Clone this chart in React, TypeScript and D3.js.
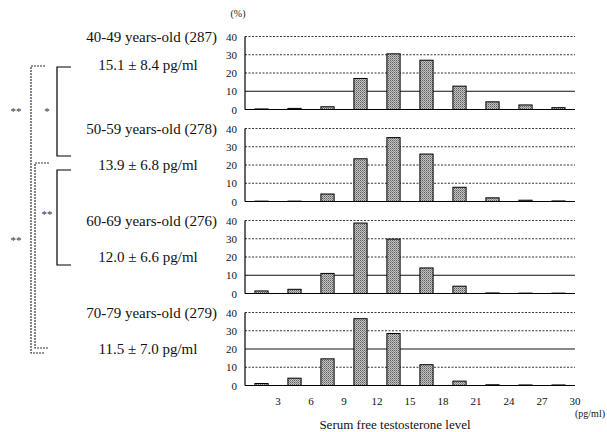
import * as d3 from "d3";

// bin centres (pg/ml) and percentages per age group
const binCentres = [1.5, 4.5, 7.5, 10.5, 13.5, 16.5, 19.5, 22.5, 25.5, 28.5];
const groupLabels = [
  "40-49 years-old (287)",
  "50-59 years-old (278)",
  "60-69 years-old (276)",
  "70-79 years-old (279)",
];
const statLabels = [
  "15.1 ± 8.4 pg/ml",
  "13.9 ± 6.8 pg/ml",
  "12.0 ± 6.6 pg/ml",
  "11.5 ± 7.0 pg/ml",
];
const pct40s = [0.3, 0.6, 1.5, 17, 30.5, 27, 12.8, 4.2, 2.5, 1.0];
const pct50s = [0.2, 0.2, 4.1, 23.4, 35, 26, 7.8, 2, 0.7, 0.3];
const pct60s = [1.4, 2.3, 11, 38.6, 29.8, 14, 4, 0.3, 0.2, 0.2];
const pct70s = [1.1, 4, 14.6, 36.6, 28.5, 11.4, 2.4, 0.4, 0.3, 0.3];
const series = [pct40s, pct50s, pct60s, pct70s];
const yTicks = [0, 10, 20, 30, 40];
const xTicks = [3, 6, 9, 12, 15, 18, 21, 24, 27, 30];
// significance brackets: [from group, to group, mark]
const brackets: [number, number, string][] = [
  [0, 3, "**"],
  [0, 1, "*"],
  [1, 3, "**"],
  [1, 2, "**"],
];

const W = 607;
const H = 432;
const FONT = "'Liberation Serif', 'Times New Roman', serif";

export default function App() {
  const x = d3.scaleLinear().domain([0, 30]).range([245, 575]);
  const panelH = 73;
  const panelGap = 92;
  const yScales = series.map((_, i) => {
    const top = 36.5 + i * panelGap;
    return d3.scaleLinear().domain([0, 40]).range([top + panelH, top]);
  });
  const solidGrid = [10, -1, 10, 20];
  const barHalf = 0.6;

  const statY = (i: number) => yScales[i](20) + (i === 0 ? -8 : 0);

  // bracket geometry (outer = dotted, inner = solid)
  const bracketGeom = [
    { x: 31, tick: 14, y1: statY(0) + 1, y2: statY(3) + 4, ly: 111, lx: 16, dotted: true },
    { x: 57, tick: 14, y1: statY(0) + 2, y2: statY(1) - 9, ly: 111, lx: 47, dotted: false },
    { x: 35, tick: 14, y1: statY(1) - 2, y2: statY(3) - 1, ly: 240, lx: 16, dotted: true },
    { x: 57, tick: 14, y1: statY(1) + 5, y2: statY(2) + 8, ly: 214, lx: 47, dotted: false },
  ];

  return (
    <svg
      width={W}
      height={H}
      style={{ position: "absolute", left: 0, top: 0, background: "#fff" }}
      fontFamily={FONT}
    >
      <defs>
        <pattern id="stipple" width={2} height={2} patternUnits="userSpaceOnUse">
          <rect width={2} height={2} fill="#c4c4c4" />
          <rect width={1} height={1} fill="#5e5e5e" />
          <rect x={1} y={1} width={1} height={1} fill="#8a8a8a" />
        </pattern>
      </defs>
      <rect width={W} height={H} fill="#fff" />

      <text x={238} y={17} fontSize={10} textAnchor="middle" fill="#222">
        (%)
      </text>

      {series.map((vals, i) => {
        const y = yScales[i];
        return (
          <g key={i}>
            {yTicks
              .filter((t) => t > 0)
              .map((t) => (
                <line
                  key={t}
                  x1={x(0)}
                  x2={x(30)}
                  y1={y(t)}
                  y2={y(t)}
                  stroke={t === solidGrid[i] ? "#111" : "#333"}
                  strokeWidth={1}
                  strokeDasharray={t === solidGrid[i] ? undefined : "2,1.5"}
                />
              ))}
            <line x1={x(0)} x2={x(0)} y1={y(0)} y2={y(40)} stroke="#000" strokeWidth={1.2} />
            <line x1={x(0)} x2={x(30)} y1={y(0)} y2={y(0)} stroke="#000" strokeWidth={1.2} />
            {yTicks.map((t) => (
              <text
                key={t}
                x={237}
                y={y(t) + 4}
                fontSize={11}
                textAnchor="end"
                fill="#111"
              >
                {t}
              </text>
            ))}
            {vals.map((v, j) => (
              <rect
                key={j}
                x={x(binCentres[j] - barHalf)}
                y={y(v)}
                width={x(binCentres[j] + barHalf) - x(binCentres[j] - barHalf)}
                height={y(0) - y(v)}
                fill="url(#stipple)"
                stroke="#000"
                strokeWidth={1}
              />
            ))}
            <text x={217} y={y(40) + 5} fontSize={15} textAnchor="end" fill="#111">
              {groupLabels[i]}
            </text>
            <text x={148} y={statY(i) + 5} fontSize={15} textAnchor="middle" fill="#111">
              {statLabels[i]}
            </text>
          </g>
        );
      })}

      {xTicks.map((t) => (
        <text
          key={t}
          x={x(t)}
          y={yScales[3](0) + 19}
          fontSize={11}
          textAnchor="middle"
          fill="#111"
        >
          {t}
        </text>
      ))}
      <text x={575} y={yScales[3](0) + 31} fontSize={10} fill="#111">
        (pg/ml)
      </text>
      <text x={395} y={429} fontSize={13} textAnchor="middle" fill="#111">
        Serum free testosterone level
      </text>

      {brackets.map(([a, b, mark], k) => {
        const g = bracketGeom[k];
        const stroke = g.dotted ? "#333" : "#000";
        const dash = g.dotted ? "2,1" : undefined;
        return (
          <g key={k} data-pair={`${a}-${b}`}>
            <path
              d={`M${g.x + g.tick},${g.y1}H${g.x}V${g.y2}H${g.x + g.tick}`}
              fill="none"
              stroke={stroke}
              strokeWidth={1.2}
              strokeDasharray={dash}
            />
            <text x={g.lx} y={g.ly + 4} fontSize={11} textAnchor="middle" fill="#333">
              {mark}
            </text>
          </g>
        );
      })}
    </svg>
  );
}
